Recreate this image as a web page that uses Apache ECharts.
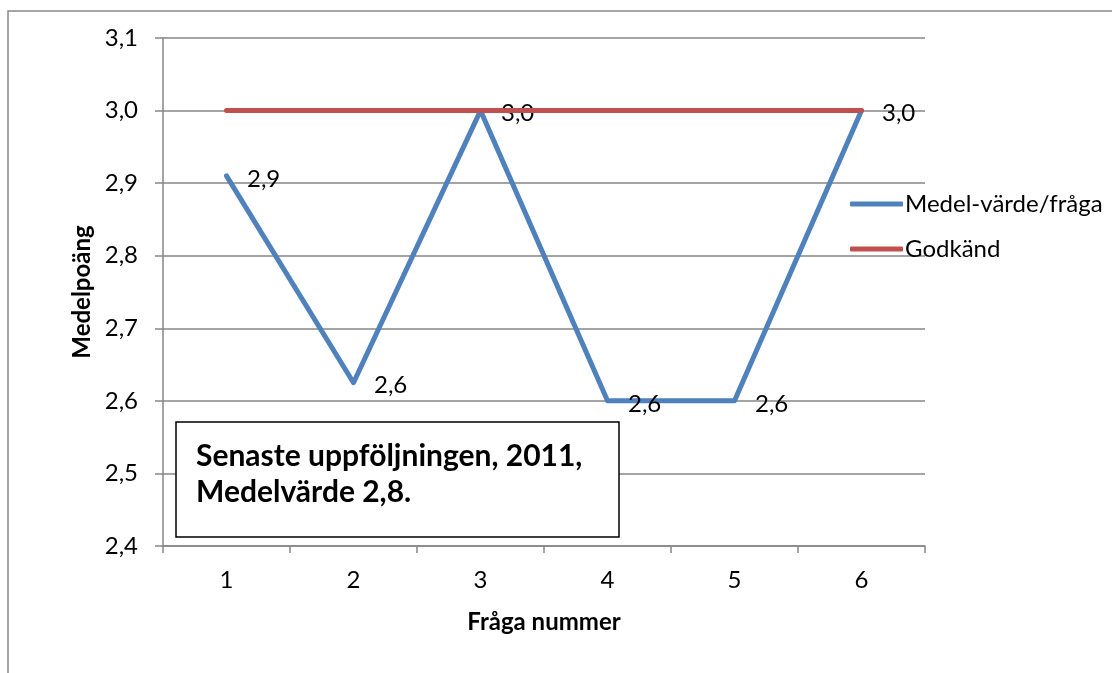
<!DOCTYPE html>
<html>
<head>
<meta charset="utf-8">
<script src="https://cdn.jsdelivr.net/npm/echarts@6/dist/echarts.min.js"></script>
<style>html,body{margin:0;padding:0;background:#fff;}#c{width:1112px;height:673px;}</style>
</head>
<body>
<div id="c"></div>
<script>
var categories = ['1', '2', '3', '4', '5', '6'];
var medelValues = [2.91, 2.625, 3.0, 2.6, 2.6, 3.0];
var godkandValues = [3.0, 3.0, 3.0, 3.0, 3.0, 3.0];
var yTicks = [2.4, 2.5, 2.6, 2.7, 2.8, 2.9, 3.0, 3.1];
var seriesNames = ['Medel-värde/fråga', 'Godkänd'];
var noteLines = ['Senaste uppföljningen, 2011,', 'Medelvärde 2,8.'];

var FONT = 'Lato, "Open Sans", sans-serif';
var chart = echarts.init(document.getElementById('c'));
function fmt(v) { return Number(v).toFixed(1).replace('.', ','); }

chart.setOption({
  animation: false,
  backgroundColor: '#ffffff',
  textStyle: { fontFamily: FONT },
  grid: { left: 163, top: 38, right: 187, bottom: 127, containLabel: false },
  legend: {
    orient: 'vertical',
    left: 845,
    top: 187,
    itemWidth: 53,
    itemHeight: 5,
    itemGap: 21,
    icon: 'roundRect',
    textStyle: { fontFamily: FONT, fontSize: 24, color: '#000', lineHeight: 24, padding: [0, 0, 0, -3] },
    data: seriesNames
  },
  xAxis: {
    type: 'category',
    data: categories,
    boundaryGap: true,
    name: 'Fråga nummer',
    nameLocation: 'middle',
    nameGap: 64,
    nameTextStyle: { fontFamily: FONT, fontSize: 24, fontWeight: 'bold', color: '#000', verticalAlign: 'top' },
    axisLine: { lineStyle: { color: '#868686', width: 1.5 } },
    axisTick: { show: true, length: 7, lineStyle: { color: '#868686', width: 1.5 } },
    axisLabel: { fontFamily: FONT, fontSize: 24, color: '#000', margin: 22 },
    splitLine: { show: false }
  },
  yAxis: {
    type: 'value',
    min: 2.4,
    max: 3.1,
    interval: 0.1,
    name: 'Medelpoäng',
    nameLocation: 'middle',
    nameRotate: 90,
    nameGap: 67,
    nameTextStyle: { fontFamily: FONT, fontSize: 24, fontWeight: 'bold', color: '#000', verticalAlign: 'bottom' },
    axisLine: { show: true, lineStyle: { color: '#868686', width: 1.5 } },
    axisTick: { show: true, length: 8, lineStyle: { color: '#868686', width: 1.5 } },
    axisLabel: {
      fontFamily: FONT, fontSize: 24, color: '#000', margin: 25,
      formatter: function (v) {
        for (var i = 0; i < yTicks.length; i++) { if (Math.abs(yTicks[i] - v) < 1e-6) return fmt(yTicks[i]); }
        return '';
      }
    },
    splitLine: { show: true, lineStyle: { color: '#868686', width: 1.5 } }
  },
  series: [
    {
      name: seriesNames[0],
      type: 'line',
      data: medelValues,
      symbol: 'circle',
      symbolSize: 1,
      showSymbol: true,
      color: '#4F81BD',
      itemStyle: { color: '#4F81BD' },
      lineStyle: { color: '#4F81BD', width: 5, cap: 'round', join: 'round' },
      label: {
        show: true,
        position: 'right',
        distance: 20,
        offset: [0, 3],
        fontFamily: FONT,
        fontSize: 24,
        color: '#000',
        formatter: function (p) { return fmt(p.value); }
      },
      z: 2
    },
    {
      name: seriesNames[1],
      type: 'line',
      data: godkandValues,
      symbol: 'none',
      color: '#C0504D',
      itemStyle: { color: '#C0504D' },
      lineStyle: { color: '#C0504D', width: 5, cap: 'round' },
      z: 3
    }
  ],
  graphic: [
    {
      type: 'rect',
      shape: { x: 8, y: 11, width: 1200, height: 800 },
      style: { fill: 'none', stroke: '#888888', lineWidth: 1.5 },
      silent: true,
      z: 0
    },
    {
      type: 'rect',
      shape: { x: 176, y: 422, width: 443, height: 115 },
      style: { fill: '#ffffff', stroke: '#000000', lineWidth: 1.5 },
      z: 100
    },
    {
      type: 'text',
      left: 196,
      top: 438,
      style: {
        text: noteLines.join('\n'),
        fontFamily: FONT,
        fontSize: 30,
        fontWeight: 'bold',
        fill: '#000',
        lineHeight: 36
      },
      z: 101
    }
  ]
});
</script>
</body>
</html>
